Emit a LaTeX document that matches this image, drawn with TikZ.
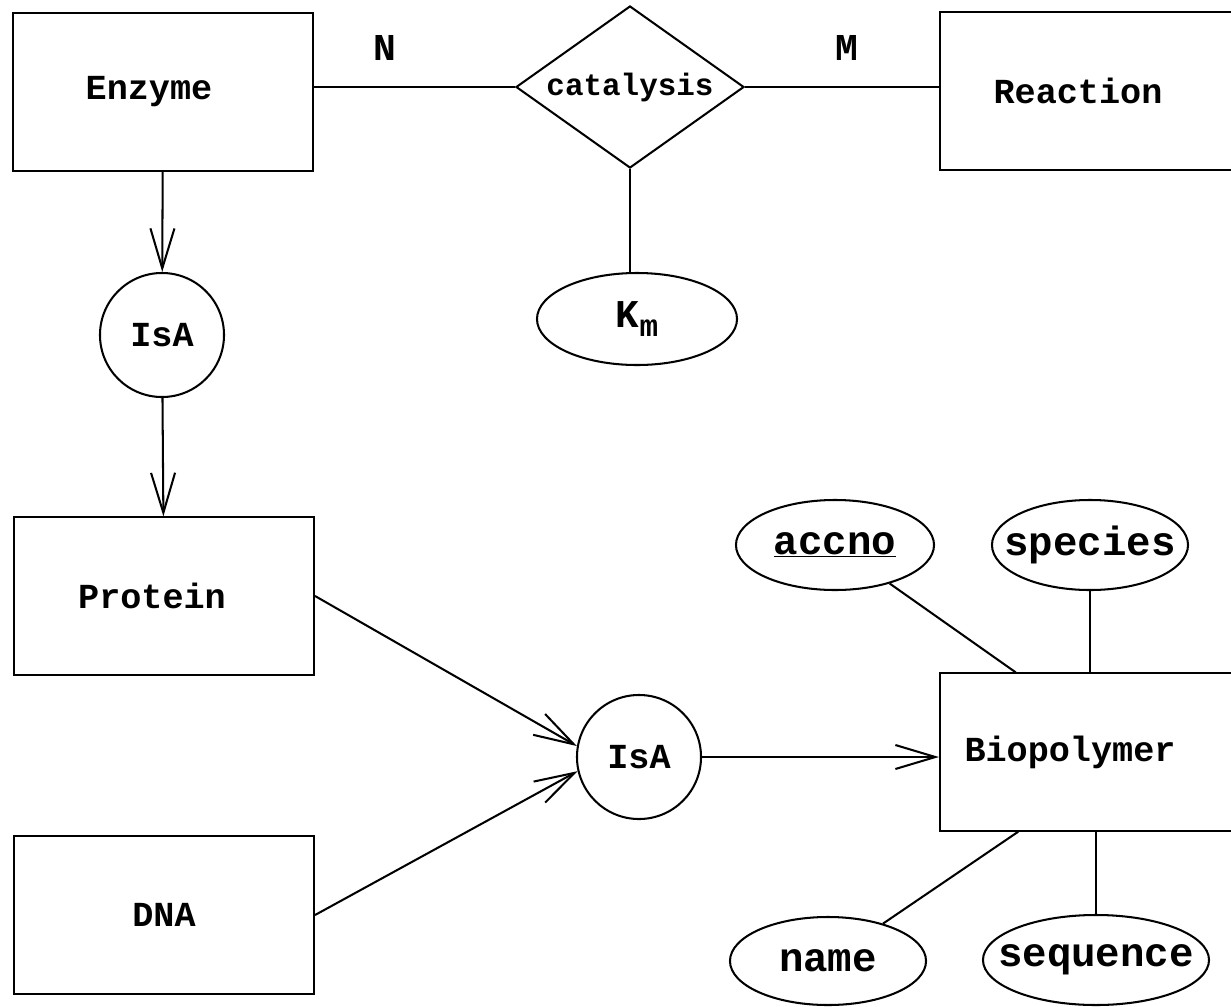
\documentclass[tikz,border=0pt]{standalone}
\usepackage{fontspec}
\setmainfont{Liberation Mono}
\usetikzlibrary{shapes.geometric,arrows.meta}

\tikzset{
  entity/.style={draw, rectangle, minimum width=7.5cm, minimum height=3.93cm, font=\bfseries\fontsize{25}{30}\selectfont},
  relship/.style={draw, diamond, aspect=1.4, inner sep=0pt, minimum width=5.7cm, minimum height=4.05cm, font=\bfseries\fontsize{22}{26}\selectfont},
  isa/.style={draw, circle, minimum size=3.1cm, font=\bfseries\fontsize{25}{30}\selectfont},
  attr/.style={draw, ellipse, inner xsep=-20pt, minimum width=4.9cm, minimum height=2.25cm, font=\bfseries\fontsize{29}{34}\selectfont},
  card/.style={font=\bfseries\fontsize{27}{32}\selectfont},
  isarrow/.style={-{Straight Barb[length=1cm,width=0.6cm]}},
}

\begin{document}
\begin{tikzpicture}[x=0.025cm, y=-0.025cm, line width=1.45pt]
  \useasboundingbox (0,0) rectangle (1231,1007);
  \clip (0,0) rectangle (1231,1007);

  % entities
  \node (enzyme) at (163,92) [entity] {Enzyme\hspace*{0.7cm}};
  \node (reaction) at (1090,91) [entity] {Reaction\hspace*{0.6cm}};
  \node (protein) at (164,596) [entity] {Protein\hspace*{0.6cm}};
  \node (dna) at (164,915) [entity] {DNA};
  \node (bio) at (1090,752) [entity] {Biopolymer\hspace*{1cm}};

  % relationship
  \node (rel) at (630,87) [relship] {catalysis};
  \node (km) at (637,319) [attr, minimum width=5cm, minimum height=2.3cm, font=\bfseries\fontsize{28}{32}\selectfont] {K\raisebox{-0.4ex}{\fontsize{22}{26}\selectfont m}};
  \node (cardn) at (385,48) [card] {N};
  \node (cardm) at (847,48) [card] {M};

  % IsA
  \node (isa1) at (162,335) [isa] {IsA};
  \node (isa2) at (639,757) [isa] {IsA};

  % attributes
  \node (accno) at (835,545) [attr, minimum width=4.95cm] {\underline{accno}};
  \node (species) at (1090,545) [attr] {species};
  \node (name) at (828,961) [attr, minimum height=2.2cm] {name};
  \node (sequence) at (1096,960) [attr, minimum width=5.65cm] {sequence};

  \draw (rel.west) -- (rel.west -| enzyme.east);
  \draw (rel.east) -- (rel.east -| reaction.west);
  \draw (rel.south) -- (rel.south |- km.north);
  \draw[isarrow] (enzyme) -- (isa1);
  \draw[isarrow] (isa1) -- (protein);
  \draw[isarrow] (protein.east) -- (isa2.170);
  \draw[isarrow] (dna.east) -- (isa2.193);
  \draw[isarrow] (isa2.east) -- (isa2.east -| bio.west);
  \draw (accno) -- (bio.133);
  \draw (species) -- (species |- bio.north);
  \draw (name) -- (bio.228);
  \draw (sequence) -- (sequence |- bio.south);
\end{tikzpicture}
\end{document}
